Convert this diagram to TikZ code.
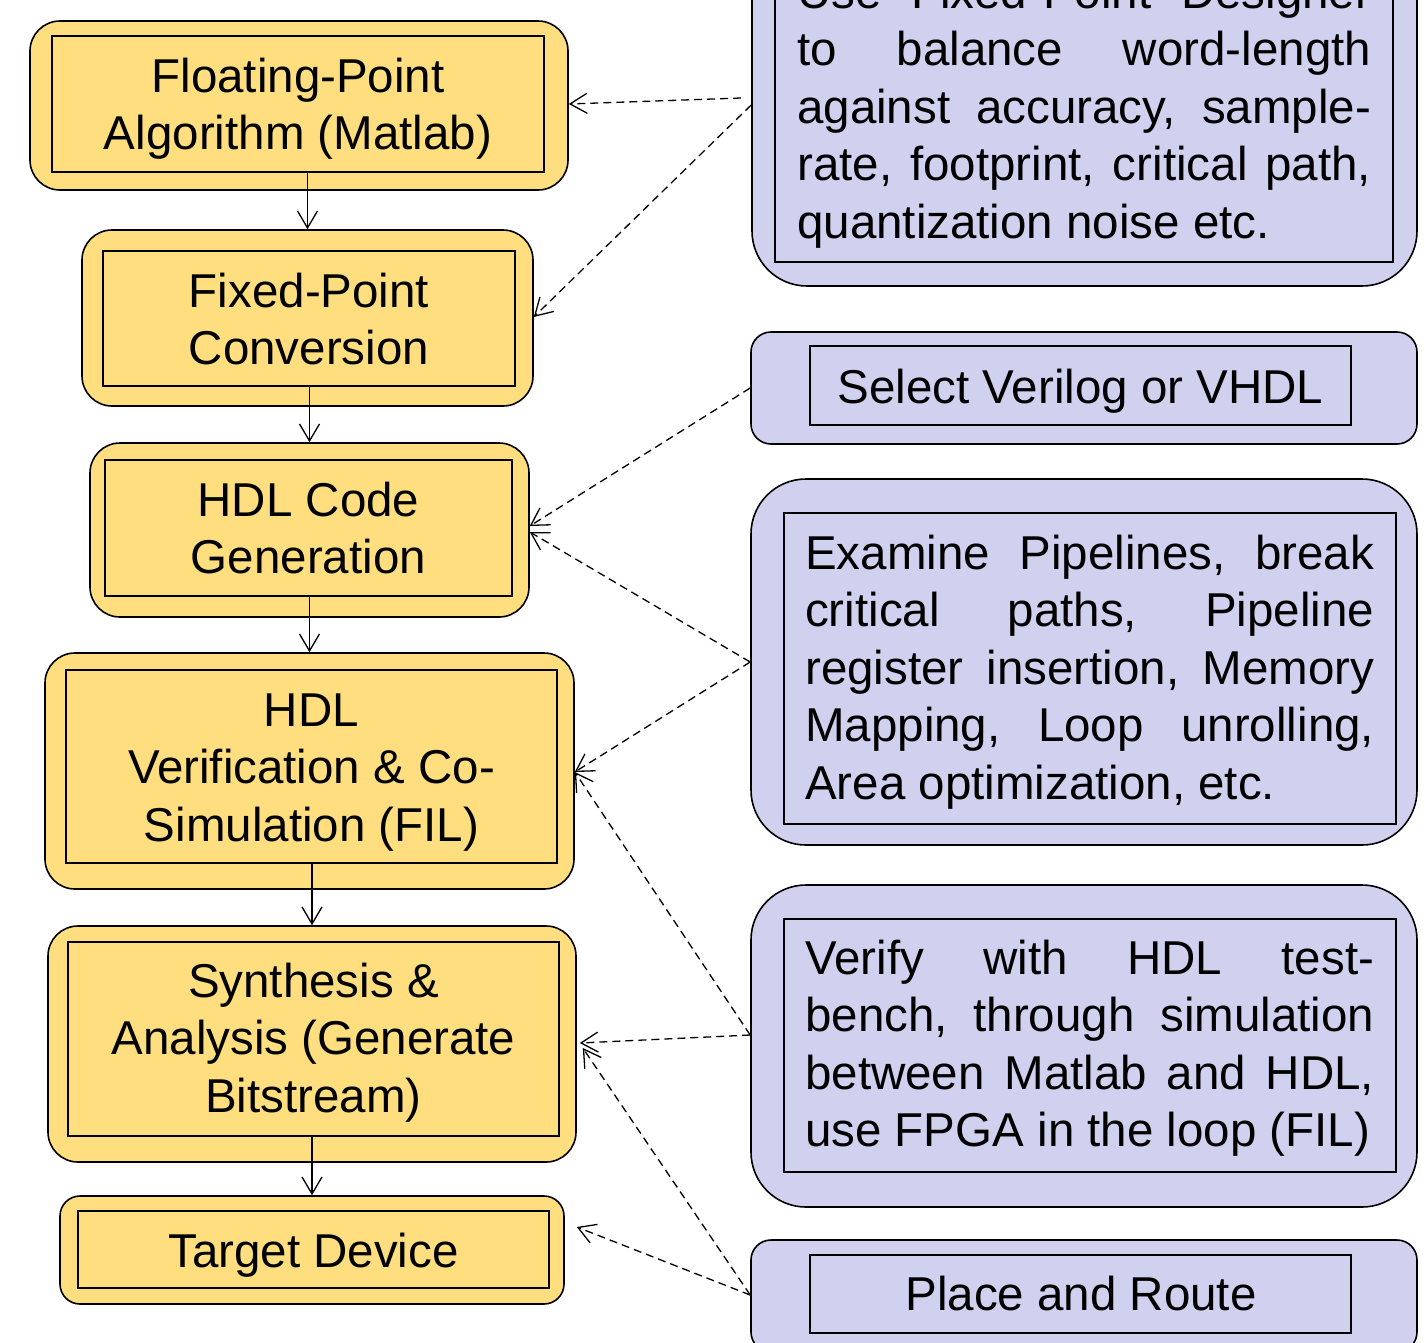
\documentclass[tikz,border=0pt]{standalone}
\usepackage{fontspec}
\setmainfont{Liberation Sans}
\usetikzlibrary{arrows.meta,calc}
\definecolor{yel}{HTML}{FEDE7F}
\definecolor{lav}{HTML}{D0D0EF}
\newdimen\jwid
\newcommand\jl[1]{\hbox to\jwid{#1}}
\newcommand\cl[1]{\hbox to 560pt{\hfil#1\hfil}}
\tikzset{
  ybox/.style={draw=black, fill=yel, line width=1.6pt, rounded corners=30pt, inner sep=0pt},
  ysmall/.style={ybox, rounded corners=20pt},
  lbox/.style={draw=black, fill=lav, line width=1.6pt, rounded corners=55pt, inner sep=0pt},
  lsmall/.style={lbox, rounded corners=20pt},
  ibox/.style={draw=black, line width=1.6pt, inner sep=0pt},
  txt/.style={inner sep=0pt, font=\fontsize{47.5pt}{57.5pt}\selectfont},
  flow/.style={draw=black, line width=1.3pt, -{Straight Barb[length=17pt,width=20pt,line width=1.3pt]}},
  hint/.style={flow, dash pattern=on 8pt off 5pt}
}
\begin{document}
\begin{tikzpicture}[x=1pt,y=-1pt]
\useasboundingbox (0,0) rectangle (1425,1342);
\clip (0,0) rectangle (1425,1342);

% left column
\node[ybox, minimum width=538, minimum height=169] (o1) at (299,105.5) {};
\node[ibox, minimum width=492, minimum height=136] (i1) at (298,104) {};
\node[txt, anchor=base] (t1) at (298,92) {\vtop{\cl{Floating-Point}\cl{Algorithm (Matlab)}}};

\node[ybox, minimum width=451, minimum height=176] (o2) at (307.5,318) {};
\node[ibox, minimum width=412, minimum height=135] (i2) at (309,318.5) {};
\node[txt, anchor=base] (t2) at (309,307) {\vtop{\cl{Fixed-Point}\cl{Conversion}}};

\node[ybox, minimum width=439, minimum height=174] (o3) at (309.5,530) {};
\node[ibox, minimum width=407, minimum height=136] (i3) at (308.5,528) {};
\node[txt, anchor=base] (t3) at (308.5,516) {\vtop{\cl{HDL Code}\cl{Generation}}};

\node[ybox, minimum width=529, minimum height=236] (o4) at (309.5,771) {};
\node[ibox, minimum width=491, minimum height=193] (i4) at (311.5,766.5) {};
\node[txt, anchor=base] (t4) at (311.5,726) {\vtop{\cl{HDL}\cl{Verification \& Co-}\cl{Simulation (FIL)}}};

\node[ybox, minimum width=528, minimum height=236] (o5) at (312,1044) {};
\node[ibox, minimum width=491, minimum height=194] (i5) at (313.5,1039) {};
\node[txt, anchor=base] (t5) at (313.5,997) {\vtop{\cl{Synthesis \&}\cl{Analysis (Generate}\cl{Bitstream)}}};

\node[ysmall, minimum width=504, minimum height=108] (o6) at (312,1250) {};
\node[ibox, minimum width=471, minimum height=77] (i6) at (313.5,1249.5) {};
\node[txt, anchor=base] (t6) at (313.5,1267) {\vtop{\cl{Target Device}}};

% right column
\node[lbox, minimum width=665, minimum height=368] (oA) at (1084.5,102) {};
\node[ibox, minimum width=618, minimum height=310] (iA) at (1084,107) {};
\node[txt, anchor=base west] (tA) at (797,8) {\vtop{\jwid=574pt
  \jl{Use\hfill Fixed-Point\hfill Designer}
  \jl{to\hfill balance\hfill word-length}
  \jl{against\hfill accuracy,\hfill sample-}
  \jl{rate,\hfill footprint,\hfill critical\hfill path,}
  \hbox{quantization noise etc.}}};

\node[lsmall, minimum width=666, minimum height=112] (oB) at (1084,388) {};
\node[ibox, minimum width=541, minimum height=79] (iB) at (1080.5,385.5) {};
\node[txt, anchor=base] (tB) at (1080.5,403) {\vtop{\cl{Select Verilog or VHDL}}};

\node[lbox, minimum width=666, minimum height=366] (oC) at (1084,662) {};
\node[ibox, minimum width=612, minimum height=311] (iC) at (1090,668.5) {};
\node[txt, anchor=base west] (tC) at (805,569) {\vtop{\jwid=569pt
  \jl{Examine\hfill Pipelines,\hfill break}
  \jl{critical\hfill paths,\hfill Pipeline}
  \jl{register\hfill insertion,\hfill Memory}
  \jl{Mapping,\hfill Loop\hfill unrolling,}
  \hbox{Area optimization, etc.}}};

\node[lbox, minimum width=666, minimum height=322] (oD) at (1084,1046) {};
\node[ibox, minimum width=612, minimum height=253] (iD) at (1090,1045.5) {};
\node[txt, anchor=base west] (tD) at (805,974) {\vtop{\jwid=569pt
  \jl{Verify\hfill with\hfill HDL\hfill test-}
  \jl{bench,\hfill through\hfill simulation}
  \jl{between\hfill Matlab\hfill and\hfill HDL,}
  \hbox{use FPGA in the loop (FIL)}}};

\node[lsmall, minimum width=666, minimum height=112] (oE) at (1084,1296) {};
\node[ibox, minimum width=541, minimum height=78] (iE) at (1080.5,1294) {};
\node[txt, anchor=base] (tE) at (1081,1310) {\vtop{\cl{Place and Route}}};

% main flow
\draw[flow] (i1.south -| o2.north) -- (o2.north);
\draw[flow] (i2.south -| o3.north) -- (o3.north);
\draw[flow] (i3.south -| o4.north) -- (o4.north);
\draw[flow] (i4.south -| o5.north) -- (o5.north);
\draw[flow] (i5.south -| o6.north) -- (o6.north);

% hints
\draw[hint] ($(oA.west |- 0,98)+(-10,0)$) -- (o1.east |- 0,104);
\draw[hint] (oA.west |- 0,105) -- (o2.east |- 0,317);
\draw[hint] (oB.west |- 0,388) -- (o3.east |- 0,526);
\draw[hint] (oC.west |- 0,662) -- (o3.east |- 0,532);
\draw[hint] (oC.west |- 0,662) -- (o4.east |- 0,772);
\draw[hint] (oD.west |- 0,1035) -- (o4.east |- 0,772);
\draw[hint] (oD.west |- 0,1035) -- ($(o5.east |- 0,1043)+(3,0)$);
\draw[hint] (oE.west |- 0,1295) -- ($(o5.east |- 0,1048)+(6,0)$);
\draw[hint] (oE.west |- 0,1295) -- ($(o6.east |- 0,1227)+(12,0)$);
\end{tikzpicture}
\end{document}
